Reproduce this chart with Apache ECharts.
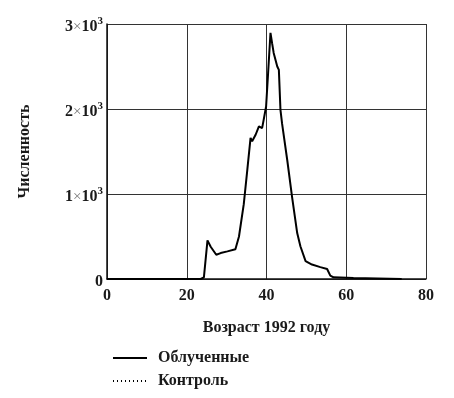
<!DOCTYPE html>
<html>
<head>
<meta charset="utf-8">
<script src="https://cdn.jsdelivr.net/npm/echarts@6/dist/echarts.min.js"></script>
<style>
  html, body { margin: 0; padding: 0; background: #fff; }
  #chart { width: 454px; height: 398px; }
</style>
</head>
<body>
<div id="chart"></div>
<script>
// возраст (лет) и численность
var ages = [0, 23.5, 24.3, 25.2, 26.0, 27.4, 28.5, 30.2, 32.2, 33.1, 34.3, 35.2, 36.0, 36.4, 37.3, 38.1, 38.9, 39.3, 39.9, 40.4, 41.0, 41.4, 41.8, 42.7, 43.1, 43.5, 43.9, 45.2, 46.4, 47.7, 48.5, 49.8, 51.4, 53.5, 55.2, 56.0, 56.8, 61.8, 73.9];
var counts = [0, 0, 20, 455, 380, 285, 305, 325, 350, 500, 880, 1290, 1660, 1620, 1700, 1795, 1775, 1875, 2030, 2420, 2895, 2775, 2660, 2500, 2460, 1990, 1830, 1400, 970, 540, 385, 210, 170, 140, 118, 40, 20, 12, 0];
var controlCounts = []; // на рисунке не видна
var xTicks = [0, 20, 40, 60, 80];
var yTicks = [0, 1000, 2000, 3000];

var irradiated = ages.map(function (a, i) { return [a, counts[i]]; });

var serif = 'Liberation Serif';
var textColor = '#1a1a1a';

var myChart = echarts.init(document.getElementById('chart'));
myChart.setOption({
    animation: false,
    grid: { left: 107, right: 28, top: 24, bottom: 119 },
    xAxis: {
        type: 'value',
        min: xTicks[0],
        max: xTicks[xTicks.length - 1],
        interval: 20,
        name: 'Возраст 1992 году',
        nameLocation: 'middle',
        nameGap: 41,
        nameTextStyle: { fontFamily: serif, fontWeight: 'bold', fontSize: 16, color: textColor },
        axisLine: { lineStyle: { color: '#111', width: 1.5 } },
        axisTick: { show: false },
        axisLabel: { fontFamily: serif, fontWeight: 'bold', fontSize: 16, color: textColor, margin: 9 },
        splitLine: { lineStyle: { color: '#333', width: 1 } }
    },
    yAxis: {
        type: 'value',
        min: yTicks[0],
        max: yTicks[yTicks.length - 1],
        interval: 1000,
        name: 'Численность',
        nameLocation: 'middle',
        nameGap: 74,
        nameRotate: 90,
        nameTextStyle: { fontFamily: serif, fontWeight: 'bold', fontSize: 16, color: textColor },
        axisLine: { lineStyle: { color: '#111', width: 1.5 } },
        axisTick: { show: false },
        axisLabel: {
            margin: 4,
            formatter: function (v) {
                if (v === 0) return '{b|0}';
                return '{b|' + (v / 1000) + '}{x|×}{b|10}{s|3}';
            },
            rich: {
                b: { fontFamily: serif, fontWeight: 'bold', fontSize: 16, color: textColor, padding: [6, 0, 0, 0] },
                x: { fontFamily: serif, fontSize: 15, color: '#777', padding: [6, 0, 0, 0] },
                s: { fontFamily: serif, fontWeight: 'bold', fontSize: 11, color: textColor, padding: [0, 0, 6, 0] }
            }
        },
        splitLine: { lineStyle: { color: '#333', width: 1 } }
    },
    legend: {
        orient: 'vertical',
        left: 112,
        top: 350,
        padding: 0,
        itemGap: 7,
        itemWidth: 34,
        itemHeight: 14,
        itemStyle: { color: 'transparent', borderWidth: 0 },
        textStyle: { fontFamily: serif, fontWeight: 'bold', fontSize: 16, color: textColor, padding: [0, 0, 0, 6] },
        data: ['Облученные', 'Контроль']
    },
    series: [{
        name: 'Облученные',
        type: 'line',
        symbol: 'none',
        lineStyle: { color: '#000', width: 2 },
        itemStyle: { color: '#000' },
        data: irradiated
    }, {
        name: 'Контроль',
        type: 'line',
        symbol: 'none',
        lineStyle: { color: '#000', width: 1, type: [1, 3] },
        itemStyle: { color: '#000' },
        data: controlCounts
    }]
});
</script>
</body>
</html>
